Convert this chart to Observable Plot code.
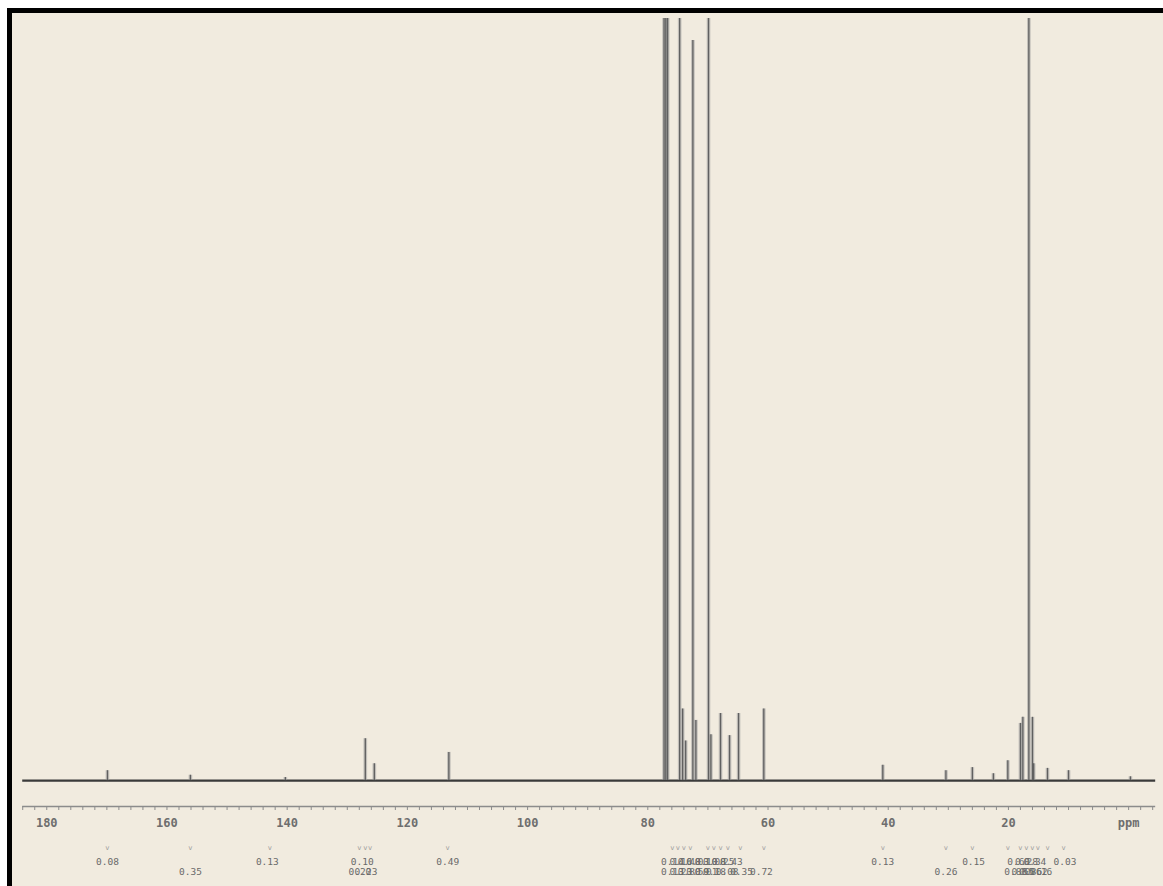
<!DOCTYPE html>
<html>
<head>
<meta charset="utf-8">
<script src="https://cdn.jsdelivr.net/npm/d3@7"></script>
<script src="https://cdn.jsdelivr.net/npm/@observablehq/plot@0.6"></script>
<style>
  html, body { margin: 0; padding: 0; background: #ffffff; overflow: hidden; }
  #sheet {
    position: absolute; left: 7px; top: 8px;
    width: 1151px; height: 873px;
    border-top: 5px solid #000; border-left: 5px solid #000;
    background: #f1ebdf;
  }
  #sheet svg { display: block; }
</style>
</head>
<body>
<div id="sheet"></div>
<script>
// ---- 13C NMR spectrum (ppm) ----
// peak positions (ppm) and intensities (% of tallest line, clipped at 100)
const peakPpm    = [77.3, 77.0, 76.7, 74.7, 72.5, 69.9, 16.6,
                    74.2, 73.7, 72.0, 69.5, 67.9, 66.4, 64.9, 60.7,
                    127.0, 125.5, 113.1, 169.9, 156.1, 140.3,
                    40.9, 30.4, 26.0, 22.5, 20.1, 18.0, 17.6, 16.0, 15.8, 13.5, 10.0, -0.3];
const peakHeight = [100, 100, 100, 100, 97.1, 100, 100,
                    9.4, 5.2, 7.9, 6.0, 8.8, 5.9, 8.8, 9.4,
                    5.5, 2.2, 3.7, 1.3, 0.7, 0.4,
                    2.0, 1.3, 1.7, 0.9, 2.6, 7.5, 8.3, 8.3, 2.2, 1.6, 1.3, 0.5];

// spectral window drawn (ppm)
const specStart = 184.0;
const specEnd = -4.5;

// axis tick labels
const tickValues = [180, 160, 140, 120, 100, 80, 60, 40, 20, 0];
const tickLabels = ["180", "160", "140", "120", "100", "80", "60", "40", "20", "ppm"];
const minorTicks = d3.range(-4, 185, 2);

// integration values printed under the axis
const intPpm   = [169.9, 143.3, 127.5, 113.3,
                  75.9, 74.5, 73.1, 71.7, 70.3, 68.9, 67.5, 66.1,
                  40.9, 25.8, 18.3, 17.0, 15.6, 10.6,
                  156.1, 127.9, 126.9,
                  75.9, 74.5, 73.1, 71.7, 70.3, 68.9, 66.8, 64.4, 61.1,
                  30.4, 18.8, 17.6, 16.3, 15.4, 14.6];
const intLabel = ["0.08", "0.13", "0.10", "0.49",
                  "0.14", "0.16", "0.48", "0.03", "0.10", "0.08", "0.25", "0.43",
                  "0.13", "0.15", "0.60", "0.28", "0.34", "0.03",
                  "0.35", "0.20", "0.23",
                  "0.13", "0.23", "0.80", "0.59", "0.01", "0.18", "0.08", "0.35", "0.72",
                  "0.26", "0.88", "0.55", "0.86", "0.62", "0.16"];
const intRow   = [1, 1, 1, 1,
                  1, 1, 1, 1, 1, 1, 1, 1,
                  1, 1, 1, 1, 1, 1,
                  2, 2, 2,
                  2, 2, 2, 2, 2, 2, 2, 2, 2,
                  2, 2, 2, 2, 2, 2];
// small integral-region markers above the values
const markPpm = [169.9, 156.1, 142.9, 128.0, 127.0, 126.2, 113.3,
                 75.9, 75.0, 74.0, 72.9, 70.0, 69.0, 67.9, 66.7, 64.6, 60.7,
                 40.9, 30.4, 26.0, 20.1, 18.0, 17.0, 16.0, 15.1, 13.5, 10.8];

const peaks = peakPpm.map((p, i) => ({ppm: p, h: peakHeight[i]}));
const integrals = intPpm.map((p, i) => ({ppm: p, label: intLabel[i], row: intRow[i]}));
const yMin = -3.4;

const chart = Plot.plot({
  width: 1151,
  height: 873,
  marginLeft: 0,
  marginRight: 0,
  marginTop: 5,
  marginBottom: 80,
  x: {domain: [185.7, -5.8], axis: null, label: null},
  y: {domain: [yMin, 100], axis: null, label: null},
  style: {background: "transparent", fontFamily: "'DejaVu Sans Mono', monospace", color: "#666"},
  marks: [
    // axis line and ticks
    Plot.ruleY([yMin], {x1: specStart, x2: specEnd, stroke: "#8c8c8c", strokeWidth: 1.4}),
    Plot.axisX(minorTicks, {tickSize: 4, tickFormat: () => "", label: null, stroke: "#8c8c8c", strokeWidth: 1}),
    Plot.axisX(tickValues, {
      tickSize: 0, tickPadding: 12, fontSize: 12, fontWeight: "bold", fill: "#6e6e6e", label: null,
      tickFormat: (d) => tickLabels[tickValues.indexOf(d)]
    }),
    // baseline
    Plot.ruleY([0], {x1: specStart, x2: specEnd, stroke: "#3a3a3a", strokeWidth: 2.4}),
    // peaks: soft halo + core line
    Plot.ruleX(peaks, {x: "ppm", y1: 0, y2: "h", stroke: "#9a9a9a", strokeOpacity: 0.55, strokeWidth: 3.6, clip: true}),
    Plot.ruleX(peaks, {x: "ppm", y1: 0, y2: "h", stroke: "#606060", strokeWidth: 1.3, clip: true}),
    // integral markers and values
    Plot.text(markPpm, {x: (d) => d, text: () => "v", frameAnchor: "bottom", lineAnchor: "middle",
      dy: 41, fontSize: 7, fill: "#9a9a9a"}),
    Plot.text(integrals, {filter: (d) => d.row === 1, x: "ppm", text: "label", frameAnchor: "bottom",
      lineAnchor: "middle", dy: 55, fontSize: 9.5, fill: "#6a6a6a"}),
    Plot.text(integrals, {filter: (d) => d.row === 2, x: "ppm", text: "label", frameAnchor: "bottom",
      lineAnchor: "middle", dy: 65, fontSize: 9.5, fill: "#6a6a6a"})
  ]
});
document.getElementById("sheet").appendChild(chart);
</script>
</body>
</html>
